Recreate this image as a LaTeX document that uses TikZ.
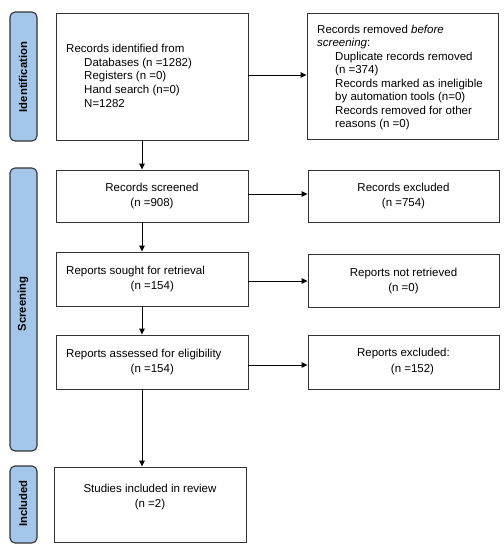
\documentclass[tikz,border=0pt]{standalone}
\usepackage{fontspec}
\setmainfont{Liberation Sans}
\usetikzlibrary{arrows.meta}
\definecolor{sidefill}{HTML}{A3C6EA}
\definecolor{edge}{HTML}{333333}
\begin{document}
\begin{tikzpicture}[x=1pt,y=-1pt,
  font=\fontsize{11.5}{13.7}\selectfont,
  box/.style={draw=edge, line width=0.9pt, fill=white, inner sep=0pt, minimum width=192pt},
  side/.style={draw=edge, line width=1.1pt, fill=sidefill, rounded corners=5pt, inner sep=0pt, minimum width=27pt},
  sidelabel/.style={rotate=90, font=\fontsize{11.3}{13}\selectfont\bfseries, inner sep=0pt},
  txt/.style={inner sep=0pt, align=left, anchor=north west},
  ctxt/.style={inner sep=0pt, align=center, font=\fontsize{11.5}{15}\selectfont},
  arr/.style={draw=black, line width=0.9pt, -{Triangle[length=6pt,width=5.5pt]}}]
\useasboundingbox (0,0) rectangle (504,550);
\fill[white] (0,0) rectangle (504,550);

% side boxes
\node[side, minimum height=129pt] (sideI) at (23.5,76.5) {};
\node[side, minimum height=283pt] (sideS) at (23.5,309.5) {};
\node[side, minimum height=77pt] (sideN) at (23.5,504.5) {};
\node[sidelabel] (labI) at (23,77) {Identification};
\node[sidelabel] (labS) at (23,304) {Screening};
\node[sidelabel] (labN) at (23,503.5) {Included};

% main boxes
\node[box, minimum height=127pt] (ident) at (152,76.5) {};
\node[box, minimum width=191pt, minimum height=126pt] (removed) at (402.5,76) {};
\node[box, minimum height=52pt] (screened) at (152,196) {};
\node[box, minimum width=191pt, minimum height=52pt] (excluded) at (403.5,196) {};
\node[box, minimum height=54pt] (sought) at (152,279) {};
\node[box, minimum width=191pt, minimum height=53pt] (notret) at (403.5,280.5) {};
\node[box, minimum height=54pt] (assessed) at (152,362) {};
\node[box, minimum width=191pt, minimum height=54pt] (repexc) at (403.5,362) {};
\node[box, minimum height=75pt] (included) at (150,504.5) {};

% texts
\node[txt] (t1) at (66,44) {Records identified from\\
\hspace*{18pt}Databases (n =1282)\\
\hspace*{18pt}Registers (n =0)\\
\hspace*{18pt}Hand search (n=0)\\
\hspace*{18pt}N=1282};
\node[txt, font=\fontsize{11.5}{13.45}\selectfont] (t2) at (317,25) {Records removed \textit{before}\\
\textit{screening}:\\
\hspace*{18pt}Duplicate records removed\\
\hspace*{18pt}(n =374)\\
\hspace*{18pt}Records marked as ineligible\\
\hspace*{18pt}by automation tools (n=0)\\
\hspace*{18pt}Records removed for other\\
\hspace*{18pt}reasons (n =0)};
\node[ctxt] (t3) at (152,195.8) {Records screened\\(n =908)};
\node[ctxt] (t4) at (403.5,195.8) {Records excluded\\(n =754)};
\node[ctxt, align=left, anchor=west] (t5) at (66,279.5) {Reports sought for retrieval\\\hspace*{64.5pt}(n =154)};
\node[ctxt] (t6) at (403.5,281) {Reports not retrieved\\(n =0)};
\node[ctxt, align=left, anchor=west] (t7) at (66,362.5) {Reports assessed for eligibility\\\hspace*{64.5pt}(n =154)};
\node[ctxt, font=\fontsize{11.5}{16.5}\selectfont] (t8) at (403.5,361.5) {Reports excluded:\\\hspace*{18pt}(n =152)};
\node[ctxt] (t9) at (150,497.5) {Studies included in review\\(n =2)};

% arrow anchors
\coordinate (a1) at ([yshift=1.5pt]ident.east);
\coordinate (a2) at ([yshift=2pt]screened.east);
\coordinate (a3) at ([yshift=-2pt]sought.east);
\coordinate (a4) at ([yshift=-3pt]assessed.east);

% arrows
\draw[arr] ([xshift=-10pt]ident.south) -- ([xshift=-10pt]screened.north);
\draw[arr] ([xshift=-10pt]screened.south) -- ([xshift=-10pt]sought.north);
\draw[arr] ([xshift=-10pt]sought.south) -- ([xshift=-10pt]assessed.north);
\draw[arr] ([xshift=-10pt]assessed.south) -- ([xshift=-8pt]included.north);
\draw[arr] (a1) -- (removed.west |- a1);
\draw[arr] (a2) -- (excluded.west |- a2);
\draw[arr] (a3) -- (notret.west |- a3);
\draw[arr] (a4) -- (repexc.west |- a4);
\end{tikzpicture}
\end{document}
